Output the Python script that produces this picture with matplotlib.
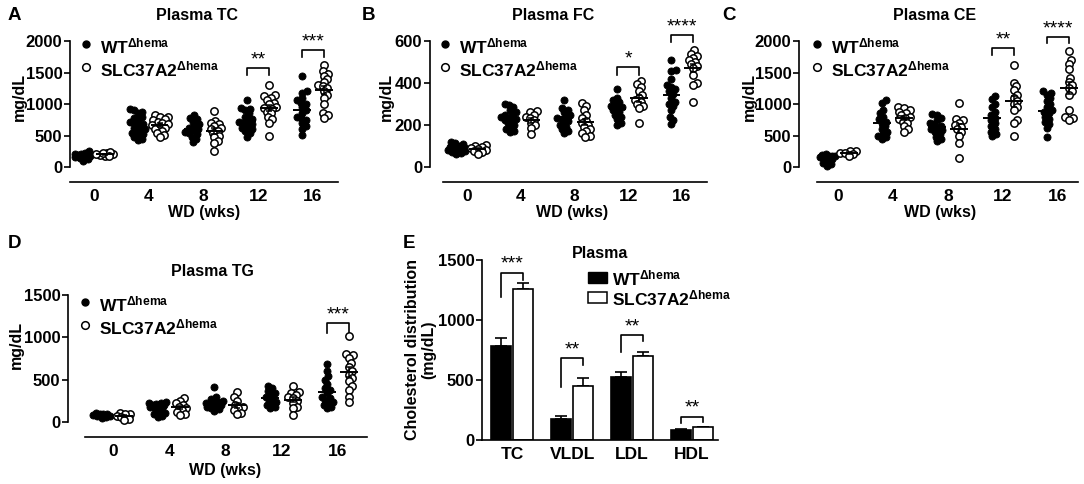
import numpy as np
import matplotlib
matplotlib.use('Agg')
import matplotlib.pyplot as plt
from matplotlib.lines import Line2D
from matplotlib.patches import Rectangle

plt.rcParams['font.family'] = ['Liberation Sans', 'DejaVu Sans']
plt.rcParams['font.weight'] = 'bold'
plt.rcParams['mathtext.fontset'] = 'custom'
plt.rcParams['mathtext.rm'] = 'Liberation Sans:bold'
plt.rcParams['mathtext.bf'] = 'Liberation Sans:bold'
plt.rcParams['mathtext.it'] = 'Liberation Sans:bold'
plt.rcParams['axes.linewidth'] = 1.2

# ---------------- data ----------------
weeks = ['0', '4', '8', '12', '16']
label_wt = r'WT$^{\mathrm{\Delta hema}}$'
label_ko = r'SLC37A2$^{\mathrm{\Delta hema}}$'

tc_wt = [
    [100, 150, 170, 180, 190, 200, 210, 230, 250, 160, 120, 180],
    [920, 900, 880, 850, 800, 780, 750, 720, 700, 680, 650, 620, 600, 580, 560, 540, 520, 500, 480, 450, 430],
    [820, 780, 760, 720, 680, 650, 620, 600, 580, 560, 540, 520, 480, 450, 400],
    [1060, 940, 920, 900, 850, 800, 760, 740, 720, 700, 680, 650, 620, 600, 570, 540, 480],
    [1450, 1200, 1180, 1100, 1060, 1020, 1000, 950, 900, 850, 800, 780, 750, 700, 650, 600, 510],
]
tc_ko = [
    [170, 190, 200, 210, 220, 230, 240, 180],
    [820, 800, 790, 760, 740, 720, 700, 680, 660, 640, 620, 600, 570, 540, 510, 480],
    [890, 730, 700, 680, 650, 620, 600, 570, 540, 500, 470, 420, 380, 250],
    [1300, 1140, 1120, 1100, 1060, 1020, 1000, 960, 940, 920, 880, 850, 800, 760, 700, 500],
    [1620, 1520, 1480, 1450, 1400, 1350, 1300, 1280, 1250, 1200, 1150, 1100, 1000, 850, 820, 780],
]
fc_wt = [
    [120, 115, 110, 100, 95, 90, 85, 80, 75, 70, 65, 60, 90, 80],
    [300, 295, 285, 270, 260, 250, 240, 235, 230, 220, 210, 200, 190, 180, 170, 165, 250, 225],
    [320, 280, 270, 260, 250, 240, 230, 220, 210, 200, 190, 180, 170, 160, 235],
    [370, 330, 320, 310, 300, 290, 285, 280, 270, 260, 250, 240, 230, 210, 200],
    [510, 460, 455, 420, 390, 370, 360, 350, 330, 310, 300, 290, 270, 240, 225, 205, 380],
]
fc_ko = [
    [105, 100, 95, 90, 85, 80, 75, 70, 60],
    [265, 260, 250, 240, 235, 225, 210, 200, 185, 155],
    [305, 290, 270, 250, 235, 220, 210, 200, 190, 180, 170, 160, 150, 145],
    [410, 395, 380, 360, 345, 330, 320, 310, 300, 290, 280, 210],
    [555, 540, 530, 520, 510, 500, 490, 480, 470, 440, 400, 390, 310],
]
ce_wt = [
    [200, 190, 180, 170, 160, 150, 130, 100, 70, 40, 20, 180],
    [1060, 1020, 900, 850, 800, 760, 720, 700, 650, 600, 560, 520, 500, 470, 450],
    [840, 820, 780, 740, 700, 680, 650, 620, 600, 580, 550, 520, 480, 440, 410],
    [1130, 1080, 1000, 950, 880, 830, 780, 740, 700, 650, 600, 560, 520, 490],
    [1200, 1180, 1150, 1100, 1050, 1000, 950, 900, 880, 850, 800, 760, 720, 680, 620, 480],
]
ce_ko = [
    [260, 250, 230, 220, 200, 180],
    [950, 930, 900, 880, 850, 820, 800, 780, 760, 720, 700, 650, 600, 560],
    [1010, 760, 740, 700, 660, 640, 600, 560, 500, 380, 150],
    [1620, 1340, 1280, 1220, 1150, 1100, 1050, 1000, 950, 900, 750, 700, 490],
    [1840, 1700, 1640, 1550, 1420, 1350, 1300, 1250, 1200, 1150, 900, 800, 780, 750],
]
tg_wt = [
    [110, 100, 90, 80, 70, 60, 50, 90, 75],
    [240, 230, 220, 210, 200, 190, 180, 170, 150, 130, 110, 90, 70, 60, 200],
    [410, 290, 270, 250, 230, 220, 210, 200, 190, 180, 170, 150, 130, 240],
    [430, 400, 370, 340, 320, 300, 280, 260, 240, 220, 200, 180, 160],
    [690, 600, 540, 500, 450, 400, 380, 340, 300, 280, 260, 240, 220, 200, 180, 160],
]
tg_ko = [
    [110, 100, 90, 75, 60, 40, 20],
    [280, 250, 220, 200, 180, 160, 140, 120, 100, 80],
    [360, 290, 250, 200, 180, 160, 140, 110, 100],
    [430, 360, 340, 320, 300, 280, 250, 220, 180, 160, 80],
    [1010, 800, 790, 760, 700, 650, 600, 560, 520, 480, 420, 380, 300, 240],
]

# panel E
fractions = ['TC', 'VLDL', 'LDL', 'HDL']
dist_wt = [780, 175, 525, 85]
dist_wt_err = [70, 25, 40, 5]
dist_ko = [1260, 450, 700, 105]
dist_ko_err = [50, 70, 30, 5]

# significance annotations: (week index, stars, bracket top, leg bottom)
sig_tc = [(3, '**', 1571, 1460), (4, '***', 1857, 1746)]
sig_fc = [(3, '*', 476, 438), (4, '****', 628, 595)]
sig_ce = [(3, '**', 1889, 1777), (4, '****', 2063, 1968)]
sig_tg = [(4, '***', 1168, 1050)]
sig_e = [(0, '***', 1395, 1195, 1334), (1, '**', 681, 445, 625),
         (2, '**', 875, 737, 828), (3, '**', 195, 139, 147)]

# ---------------- figure ----------------
W, H = 1084, 484
fig = plt.figure(figsize=(W / 100, H / 100), dpi=100)


def add_ax(left, top, right, bottom):
    return fig.add_axes([left / W, 1 - bottom / H, (right - left) / W, (bottom - top) / H])


def fx(px):
    return px / W


def fy(py):
    return 1 - py / H


def swarm_offsets(ax, vals, diam, maxoff):
    x0, x1 = ax.get_xlim()
    y0, y1 = ax.get_ylim()
    bb = ax.get_position()
    sx = bb.width * W / (x1 - x0)
    sy = bb.height * H / (y1 - y0)
    vals = np.asarray(vals, float)
    order = np.argsort(vals)
    placed = []
    offs = np.zeros(len(vals))
    cands = [0.0]
    k = 1
    while k * 0.5 <= maxoff:
        cands += [k * 0.5, -k * 0.5]
        k += 1
    for i in order:
        ypx = vals[i] * sy
        best, bestd = 0.0, -1
        chosen = None
        for c in cands:
            d = min([np.hypot(c - px, ypx - py) for px, py in placed] + [1e9])
            if d >= diam:
                chosen = c
                break
            if d > bestd:
                best, bestd = c, d
        if chosen is None:
            chosen = best
        placed.append((chosen, ypx))
        offs[i] = chosen / sx
    return offs


TICK_FS = 12
def scatter_panel(box, ylim, yticks, wt, ko, sigs, spine_start, title, title_xy,
                  letter, letter_xy, ylab_xy, leg_xy, xlab_xy, xlim):
    ax = add_ax(*box)
    ax.set_xlim(*xlim)
    ax.set_ylim(*ylim)
    for s in ['top', 'right']:
        ax.spines[s].set_visible(False)
    ax.spines['left'].set_bounds(0, yticks[-1])
    ax.spines['bottom'].set_bounds(spine_start, xlim[1])
    ax.set_yticks(yticks)
    ax.set_yticklabels([str(t) for t in yticks], fontsize=TICK_FS, fontweight='bold')
    ax.set_xticks(range(len(weeks)))
    ax.set_xticklabels(weeks, fontsize=TICK_FS + 0.5, fontweight='bold')
    ax.tick_params(axis='y', length=4, width=1.2, pad=1.5)
    ax.tick_params(axis='x', length=0, pad=5)
    for i in range(len(weeks)):
        for vals, dx, filled in [(wt[i], -0.2, True), (ko[i], 0.2, False)]:
            offs = swarm_offsets(ax, vals, 4.5, 8.5)
            xs = i + dx + offs
            if filled:
                ax.scatter(xs, vals, s=26, c='black', edgecolors='black',
                           linewidths=0.6, zorder=3, clip_on=False)
            else:
                ax.scatter(xs, vals, s=28, facecolors='white', edgecolors='black',
                           linewidths=1.1, zorder=3, clip_on=False)
            v = np.asarray(vals, float)
            m = v.mean()
            se = v.std(ddof=1) / np.sqrt(len(v))
            ax.plot([i + dx - 0.16, i + dx + 0.16], [m, m], color='black', lw=1.4,
                    zorder=4, solid_capstyle='butt')
            ax.errorbar(i + dx, m, yerr=se, fmt='none', ecolor='black', elinewidth=1.1,
                        capsize=2.5, capthick=1.1, zorder=4)
    for (i, stars, top, leg) in sigs:
        xa, xb = i - 0.2, i + 0.2
        ax.plot([xa, xa, xb, xb], [leg, top, top, leg], color='black', lw=1.2,
                clip_on=False)
        ax.text(i, top, stars, ha='center', va='bottom', fontsize=14,
                fontweight='normal', clip_on=False)
    fig.text(fx(title_xy[0]), fy(title_xy[1]), title, ha='center', va='center',
             fontsize=11.5, fontweight='bold')
    fig.text(fx(letter_xy[0]), fy(letter_xy[1]), letter, ha='left', va='center',
             fontsize=13.5, fontweight='bold')
    fig.text(fx(ylab_xy[0]), fy(ylab_xy[1]),
             'mg/dL', rotation=90, ha='center', va='center', fontsize=11.5,
             fontweight='bold')
    fig.text(fx(xlab_xy[0]), fy(xlab_xy[1]), 'WD (wks)', ha='center', va='center',
             fontsize=11.5, fontweight='bold')
    # legend
    lx, ly = leg_xy
    fig.add_artist(Line2D([fx(lx)], [fy(ly)], marker='o', markersize=5,
                          markerfacecolor='black', markeredgecolor='black',
                          linestyle='none'))
    fig.add_artist(Line2D([fx(lx)], [fy(ly + 23)], marker='o', markersize=5.5,
                          markerfacecolor='white', markeredgecolor='black',
                          markeredgewidth=1.1, linestyle='none'))
    fig.text(fx(lx + 14), fy(ly + 9), label_wt, ha='left', va='baseline', fontsize=12.5)
    fig.text(fx(lx + 14), fy(ly + 32), label_ko, ha='left', va='baseline', fontsize=12.5)
    return ax


scatter_panel((70, 41, 338, 182), (-238, 2000), [0, 500, 1000, 1500, 2000],
              tc_wt, tc_ko, sig_tc, -0.438, 'Plasma TC', (197, 15), 'A', (8, 15), (19, 97),
              (86, 44), (204, 213), (-0.438, 4.457))
scatter_panel((430, 41, 707, 182), (-71.4, 600), [0, 200, 400, 600],
              fc_wt, fc_ko, sig_fc, -0.447, 'Plasma FC', (553, 15), 'B', (362, 15), (386, 97),
              (445, 44), (572, 213), (-0.688, 4.465))
scatter_panel((799, 41, 1078, 182), (-238, 2000), [0, 500, 1000, 1500, 2000],
              ce_wt, ce_ko, sig_ce, -0.38, 'Plasma CE', (935, 15), 'C', (722, 15), (749, 97),
              (817, 44), (940, 213), (-0.709, 4.364))
scatter_panel((68, 295, 367, 437), (-177, 1500), [0, 500, 1000, 1500],
              tg_wt, tg_ko, sig_tg, -0.498, 'Plasma TG', (212, 272), 'D', (8, 243), (16, 345),
              (85, 302), (225, 470), (-0.8, 4.516))

# ---------------- panel E ----------------
axE = add_ax(482, 260, 718, 440)
axE.set_xlim(-0.5, 3.43)
axE.set_ylim(0, 1500)
for s in ['top', 'right']:
    axE.spines[s].set_visible(False)
x = np.arange(len(fractions))
bw = 0.33
axE.bar(x - 0.18, dist_wt, bw, color='black', edgecolor='black', linewidth=1.2, zorder=2)
axE.bar(x + 0.18, dist_ko, bw, color='white', edgecolor='black', linewidth=1.2, zorder=2)
axE.errorbar(x - 0.18, dist_wt, yerr=[np.zeros(4), dist_wt_err], fmt='none',
             ecolor='black', elinewidth=1.2, capsize=4, capthick=1.2, zorder=1)
axE.errorbar(x + 0.18, dist_ko, yerr=[np.zeros(4), dist_ko_err], fmt='none',
             ecolor='black', elinewidth=1.2, capsize=4, capthick=1.2, zorder=1)
axE.set_yticks([0, 500, 1000, 1500])
axE.set_yticklabels(['0', '500', '1000', '1500'], fontsize=12, fontweight='bold')
axE.set_xticks(x)
axE.set_xticklabels(fractions, fontsize=12.5, fontweight='bold')
axE.tick_params(axis='y', length=4, width=1.2, pad=1.5)
axE.tick_params(axis='x', length=0, pad=5)
for (i, stars, top, lb, rb) in sig_e:
    xa, xb = i - 0.18, i + 0.18
    axE.plot([xa, xa, xb, xb], [lb, top, top, rb], color='black', lw=1.2, clip_on=False)
    axE.text(i, top, stars, ha='center', va='bottom', fontsize=14, fontweight='normal',
             clip_on=False)
fig.text(fx(600), fy(254), 'Plasma', ha='center', va='center', fontsize=11.5,
         fontweight='bold')
fig.text(fx(403), fy(243), 'E', ha='left', va='center', fontsize=13.5, fontweight='bold')
fig.text(fx(421), fy(350), 'Cholesterol distribution\n(mg/dL)', rotation=90,
         ha='center', va='center', fontsize=11.5, fontweight='bold', linespacing=1.1)
fig.add_artist(Rectangle((fx(588), fy(283)), 19 / W, 11 / H, facecolor='black',
                         edgecolor='black', lw=1.0))
fig.add_artist(Rectangle((fx(588), fy(303)), 19 / W, 11 / H, facecolor='white',
                         edgecolor='black', lw=1.1))
fig.text(fx(612), fy(285), label_wt, ha='left', va='baseline', fontsize=12.5)
fig.text(fx(612), fy(305), label_ko, ha='left', va='baseline', fontsize=12.5)

fig.savefig('out.png', dpi=100)
